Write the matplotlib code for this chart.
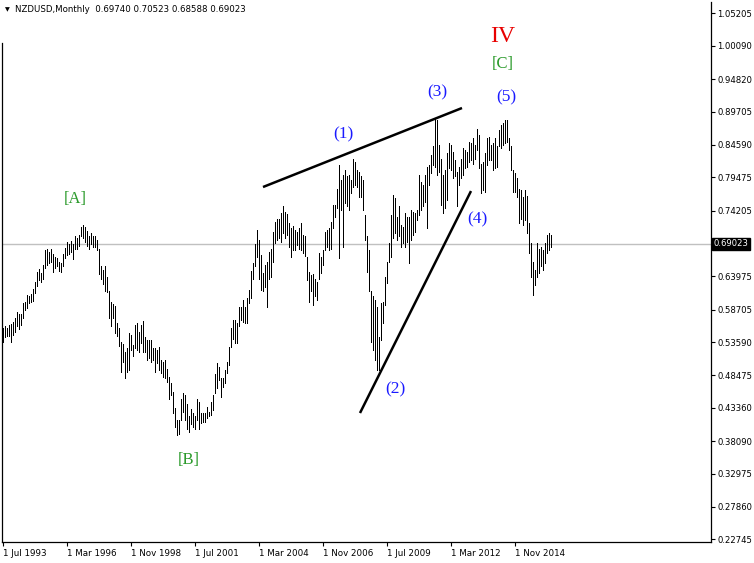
import numpy as np
import pandas as pd
import matplotlib
matplotlib.use('Agg')
import matplotlib.pyplot as plt
import matplotlib.transforms as mtransforms

symbol = 'NZDUSD,Monthly'
last_ohlc = [0.69740, 0.70523, 0.68588, 0.69023]

# monthly high / low, Jul 1993 .. May 2016
highs = [0.558, 0.562, 0.559, 0.563, 0.565, 0.568, 0.574, 0.583, 0.581, 0.581,
         0.597, 0.599, 0.610, 0.609, 0.611, 0.620, 0.631, 0.646, 0.651, 0.644,
         0.658, 0.681, 0.682, 0.678, 0.682, 0.675, 0.669, 0.668, 0.662, 0.660,
         0.675, 0.684, 0.693, 0.690, 0.695, 0.690, 0.702, 0.699, 0.705, 0.717,
         0.720, 0.716, 0.710, 0.702, 0.708, 0.702, 0.702, 0.696, 0.683, 0.655,
         0.649, 0.655, 0.639, 0.616, 0.599, 0.596,
         0.593, 0.566, 0.558, 0.537, 0.533, 0.521, 0.527, 0.550, 0.548, 0.532,
         0.563, 0.566, 0.553, 0.563, 0.569, 0.545, 0.540, 0.539, 0.540, 0.527,
         0.527, 0.524, 0.529, 0.508, 0.506, 0.508, 0.495, 0.482, 0.472, 0.459,
         0.433, 0.414, 0.414, 0.448, 0.456, 0.454, 0.439, 0.420, 0.431, 0.425,
         0.420, 0.448, 0.443, 0.425, 0.425, 0.426, 0.435, 0.427, 0.443, 0.454,
         0.486, 0.503, 0.497, 0.480, 0.480,
         0.493, 0.506, 0.529, 0.558, 0.571, 0.571, 0.566, 0.592, 0.592, 0.602,
         0.592, 0.605, 0.618,
         0.648, 0.660, 0.690, 0.712, 0.697, 0.673, 0.644, 0.657, 0.662, 0.678,
         0.683, 0.709, 0.725, 0.729, 0.730, 0.738, 0.750, 0.741, 0.737, 0.723,
         0.715, 0.718, 0.712, 0.709, 0.715, 0.723, 0.704, 0.702, 0.670, 0.647,
         0.642, 0.643, 0.636, 0.631, 0.676, 0.670, 0.681, 0.709, 0.712, 0.715,
         0.724, 0.751,
         0.751, 0.777, 0.814, 0.790, 0.798, 0.806, 0.796, 0.798, 0.790, 0.824,
         0.819, 0.806, 0.803, 0.796, 0.790, 0.736, 0.702, 0.681, 0.616, 0.608,
         0.602, 0.592, 0.545, 0.597, 0.600, 0.639, 0.662, 0.691, 0.736, 0.767,
         0.762, 0.733, 0.749, 0.720, 0.717, 0.738, 0.733, 0.733, 0.743, 0.741,
         0.738, 0.743, 0.798, 0.788, 0.783, 0.798, 0.811, 0.814, 0.830, 0.843,
         0.887, 0.884, 0.845, 0.824, 0.798,
         0.806, 0.832, 0.848, 0.845, 0.835, 0.822, 0.803, 0.811, 0.824, 0.840,
         0.837, 0.835, 0.850, 0.848, 0.856, 0.845, 0.871, 0.861, 0.816, 0.819,
         0.832, 0.856, 0.858, 0.845, 0.848, 0.856, 0.843, 0.869, 0.877, 0.879,
         0.884, 0.885, 0.856, 0.843, 0.806, 0.801, 0.793, 0.777, 0.775, 0.764,
         0.775, 0.765, 0.723, 0.691, 0.662, 0.649, 0.691, 0.683, 0.686, 0.681,
         0.691, 0.704, 0.707, 0.705]
lows = [0.536, 0.545, 0.546, 0.546, 0.537, 0.548, 0.553, 0.561, 0.557, 0.563,
        0.574, 0.587, 0.590, 0.597, 0.599, 0.601, 0.614, 0.625, 0.634, 0.630,
        0.635, 0.653, 0.657, 0.660, 0.662, 0.646, 0.652, 0.655, 0.648, 0.646,
        0.655, 0.668, 0.673, 0.675, 0.678, 0.667, 0.683, 0.683, 0.687, 0.702,
        0.699, 0.694, 0.687, 0.683, 0.690, 0.685, 0.685, 0.681, 0.643, 0.636,
        0.628, 0.616, 0.615, 0.574, 0.562, 0.574,
        0.551, 0.546, 0.530, 0.489, 0.506, 0.480, 0.489, 0.492, 0.524, 0.514,
        0.527, 0.524, 0.521, 0.535, 0.521, 0.521, 0.508, 0.511, 0.506, 0.508,
        0.490, 0.503, 0.492, 0.488, 0.482, 0.480, 0.474, 0.448, 0.454, 0.425,
        0.404, 0.391, 0.392, 0.414, 0.427, 0.414, 0.401, 0.396, 0.408, 0.404,
        0.401, 0.414, 0.401, 0.409, 0.412, 0.412, 0.417, 0.420, 0.422, 0.430,
        0.456, 0.464, 0.477, 0.450, 0.466,
        0.472, 0.488, 0.501, 0.529, 0.542, 0.535, 0.535, 0.561, 0.571, 0.568,
        0.566, 0.566, 0.597,
        0.605, 0.636, 0.655, 0.670, 0.636, 0.618, 0.616, 0.623, 0.592, 0.636,
        0.639, 0.662, 0.691, 0.696, 0.699, 0.694, 0.707, 0.699, 0.704, 0.686,
        0.670, 0.681, 0.681, 0.689, 0.683, 0.681, 0.676, 0.671, 0.634, 0.600,
        0.616, 0.595, 0.608, 0.602, 0.636, 0.644, 0.657, 0.681, 0.686, 0.681,
        0.683, 0.715,
        0.732, 0.746, 0.668, 0.743, 0.686, 0.754, 0.749, 0.743, 0.770, 0.780,
        0.783, 0.780, 0.764, 0.764, 0.743, 0.696, 0.647, 0.616, 0.537, 0.524,
        0.509, 0.493, 0.493, 0.540, 0.566, 0.595, 0.629, 0.662, 0.670, 0.699,
        0.707, 0.696, 0.702, 0.686, 0.691, 0.686, 0.694, 0.660, 0.696, 0.704,
        0.709, 0.728, 0.736, 0.743, 0.749, 0.756, 0.715, 0.783, 0.801, 0.814,
        0.811, 0.798, 0.803, 0.751, 0.738,
        0.746, 0.759, 0.809, 0.806, 0.793, 0.796, 0.749, 0.783, 0.793, 0.798,
        0.809, 0.811, 0.819, 0.822, 0.816, 0.824, 0.837, 0.809, 0.770, 0.775,
        0.772, 0.814, 0.822, 0.822, 0.806, 0.809, 0.811, 0.843, 0.840, 0.845,
        0.848, 0.850, 0.837, 0.806, 0.772, 0.772, 0.764, 0.723, 0.730, 0.720,
        0.728, 0.707, 0.676, 0.639, 0.610, 0.626, 0.639, 0.644, 0.655, 0.649,
        0.660, 0.676, 0.681, 0.686]

dates = pd.date_range('1993-07-01', periods=len(highs), freq='MS')

price_ticks = [1.05205, 1.00090, 0.94820, 0.89705, 0.84590, 0.79475, 0.74205,
               0.63975, 0.58705, 0.53590, 0.48475, 0.43360, 0.38090, 0.32975,
               0.27860, 0.22745]
date_step = 32

# wave marks: text, bar index, price
primary_waves = [('[A]', 36, 0.761), ('[B]', 93, 0.352), ('[C]', 250, 0.972)]
intermediate = [('(1)', 170, 0.862), ('(2)', 196, 0.463), ('(3)', 217, 0.927),
                ('(4)', 237, 0.728), ('(5)', 251.5, 0.920)]
cycle_wave = ('IV', 250, 1.016)
upper_line = ([130, 229.5], [0.7794, 0.9032])
lower_line = ([178.5, 234], [0.4253, 0.7731])

fig = plt.figure(figsize=(7.54, 5.63), dpi=100)
ax = fig.add_axes([2 / 754, 21 / 563, 709 / 754, 540 / 563])

x = np.arange(len(highs))
ax.vlines(x, lows, highs, color='black', lw=0.5, antialiased=False)
ax.axhline(last_ohlc[3], color='#c0c0c0', lw=1, zorder=0)

ax.plot(*upper_line, color='black', lw=1.8, solid_capstyle='butt')
ax.plot(*lower_line, color='black', lw=1.8, solid_capstyle='butt')

serif = 'Liberation Serif'
for t, bx, py in primary_waves:
    ax.text(bx, py, t, color='#2a9a2a', fontsize=12, family=serif, ha='center', va='center')
for t, bx, py in intermediate:
    ax.text(bx, py, t, color='#1a1aff', fontsize=12.5, family=serif, ha='center', va='center')
ax.text(cycle_wave[1], cycle_wave[2], cycle_wave[0], color='#e80000', fontsize=17,
        family=serif, ha='center', va='center')

ax.set_xlim(-0.5, 354)
ax.set_ylim(0.2232, 1.0693)

ax.yaxis.tick_right()
ax.set_yticks(price_ticks)
ax.set_yticklabels(['%.5f' % p for p in price_ticks])
ticks = list(range(0, len(dates), date_step))
ax.set_xticks(ticks)
ax.set_xticklabels(['1 ' + dates[i].strftime('%b %Y') for i in ticks])
for lab in ax.get_xticklabels():
    lab.set_horizontalalignment('left')
ax.tick_params(axis='y', direction='out', length=3, width=0.8, pad=1.5, labelsize=6.1)
ax.tick_params(axis='x', direction='out', length=3, width=0.8, pad=2, labelsize=6.3)

for s in ['left', 'right', 'bottom']:
    ax.spines[s].set_linewidth(0.9)
ax.spines['top'].set_visible(False)
ax.spines['left'].set_bounds(0.2232, 1.005)

trans = mtransforms.blended_transform_factory(ax.transAxes, ax.transData)
ax.text(1.004, last_ohlc[3], '%.5f' % last_ohlc[3], transform=trans, color='white',
        fontsize=6.1, va='center', ha='left',
        bbox=dict(boxstyle='square,pad=0.2', fc='black', ec='black'))

fig.text(5 / 754, 1 - 10 / 563, '\u25bc', fontsize=4.5, va='center', ha='left')
fig.text(15 / 754, 1 - 10 / 563, symbol + '  ' + ' '.join('%.5f' % v for v in last_ohlc),
         fontsize=6.2, va='center', ha='left')

fig.savefig('out.png', dpi=100)
